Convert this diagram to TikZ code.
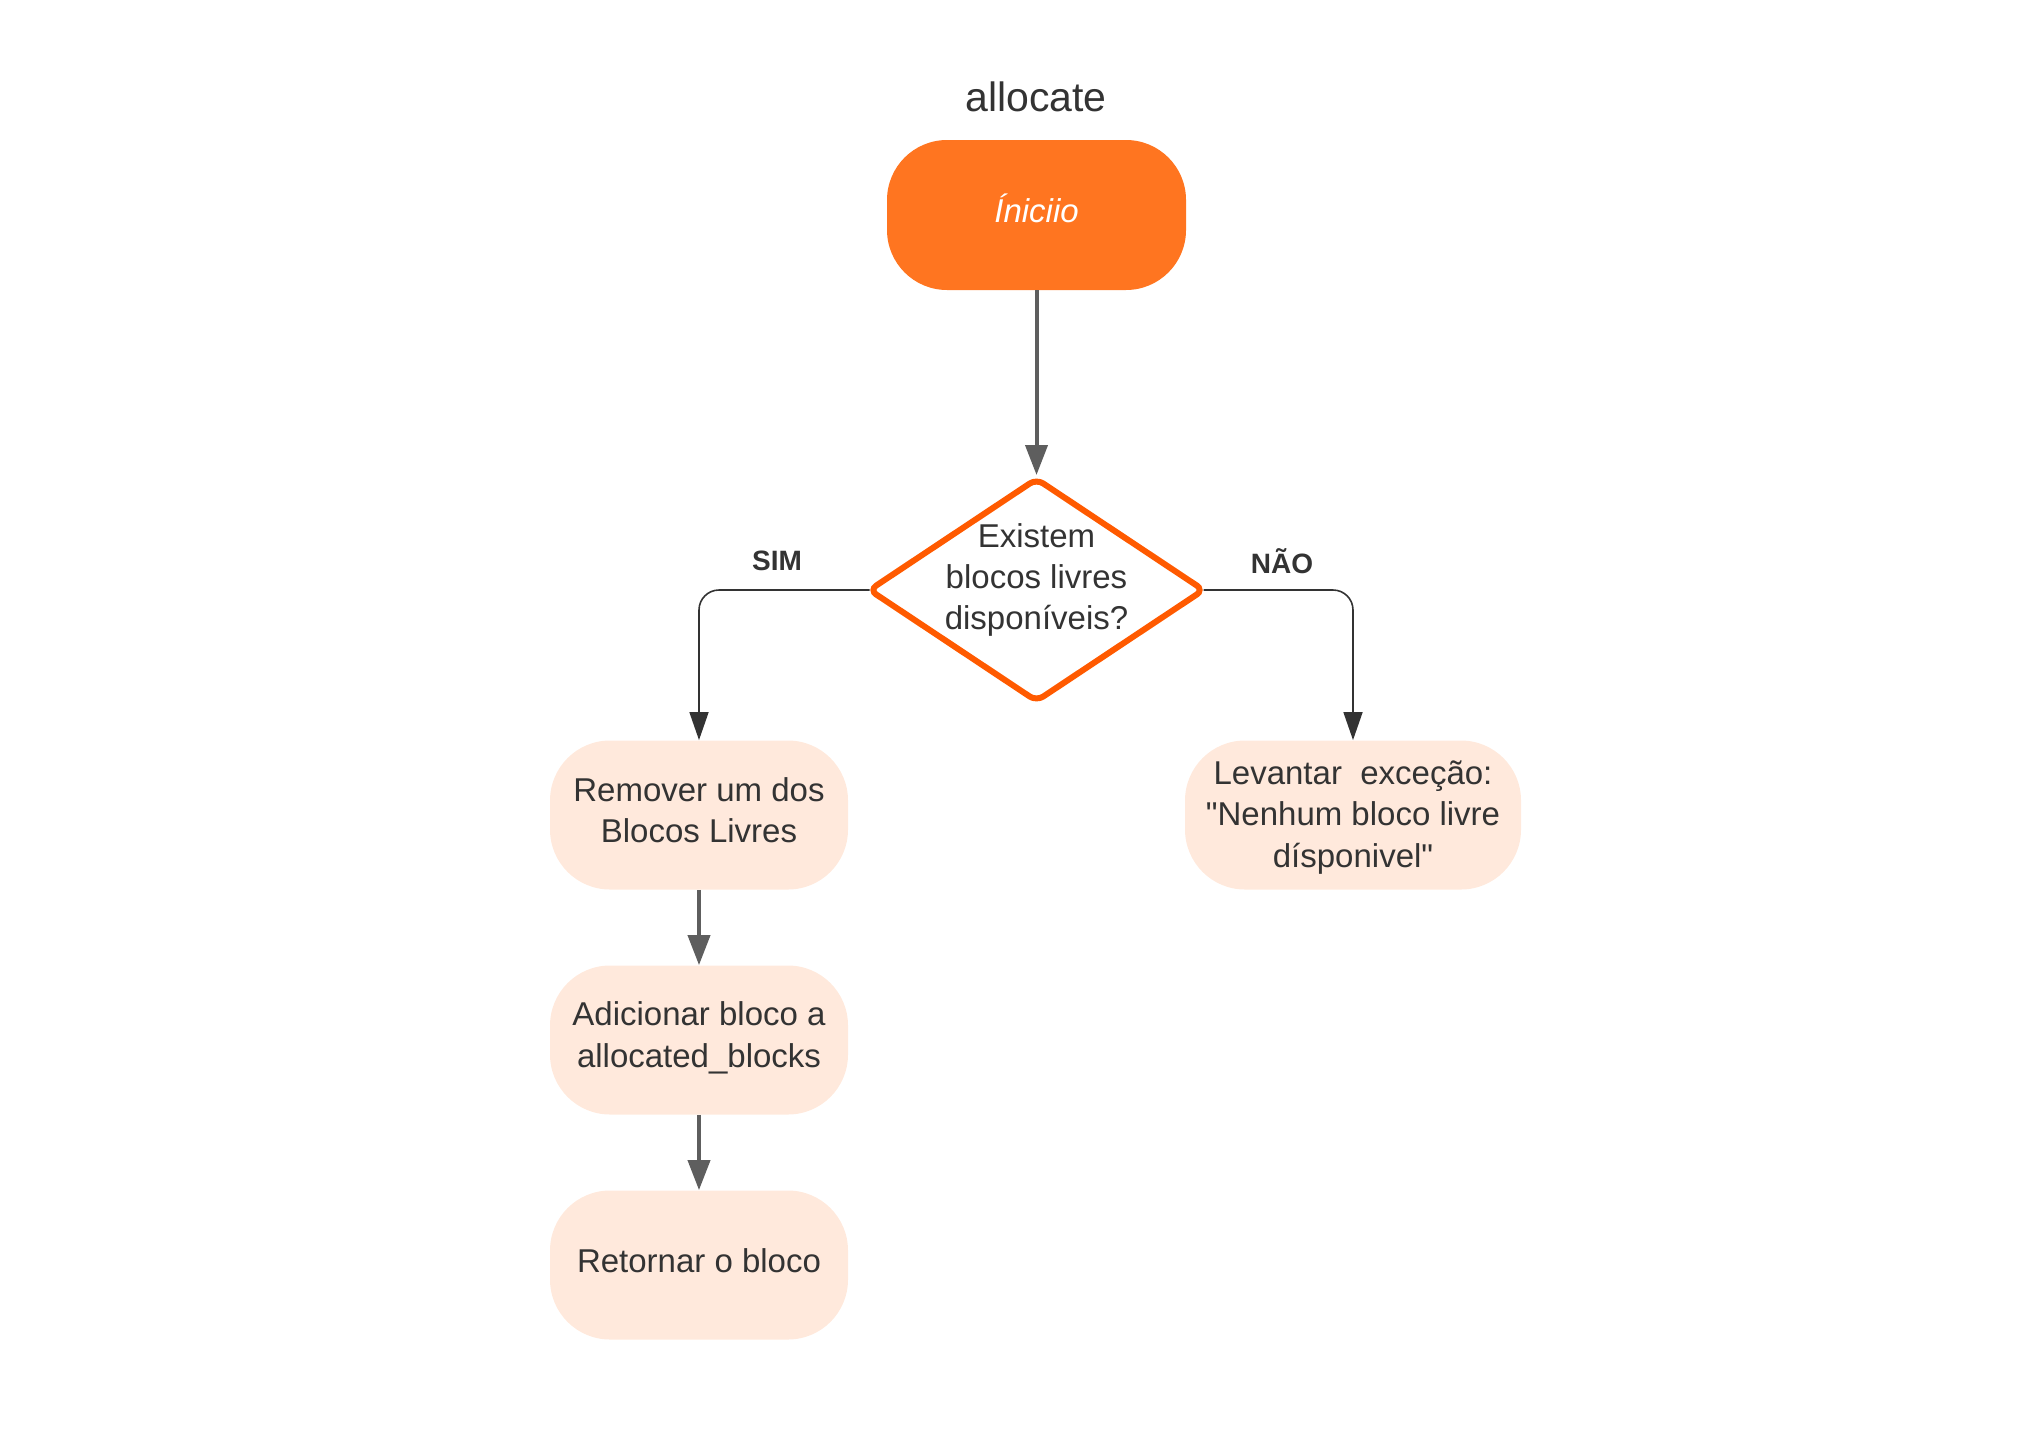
\documentclass[tikz,border=0pt]{standalone}
\usepackage{fontspec}
\setmainfont{Liberation Sans}[Ligatures=TeXOff]
\usetikzlibrary{arrows.meta,shapes.geometric}
\definecolor{startor}{HTML}{FF7520}
\definecolor{diaor}{HTML}{FF5A00}
\definecolor{peach}{HTML}{FFE9DC}
\definecolor{txt}{HTML}{333333}
\definecolor{garrow}{HTML}{5E5E5E}
\definecolor{darrow}{HTML}{333333}
\tikzset{
  boxtxt/.style={font=\fontsize{16.5}{20.7}\selectfont, text=txt, align=center, inner sep=0pt},
  stadium/.style={fill=peach, rounded corners=30pt, minimum height=74.5pt, inner sep=0pt},
  startnode/.style={fill=startor, rounded corners=30pt, minimum width=149.5pt, minimum height=75pt, inner sep=0pt},
  starttxt/.style={text=white, font=\fontsize{16.5}{20.7}\selectfont\itshape, inner sep=0pt},
  dia/.style={shape=diamond, draw=diaor, line width=3pt, fill=white, minimum width=167pt, minimum height=111pt, rounded corners=4pt, inner sep=0pt, outer sep=0pt},
  thick arrow/.style={draw=garrow, line width=2pt, -{Triangle[length=15pt,width=11pt]}},
  thin arrow/.style={draw=darrow, line width=0.8pt, -{Triangle[length=14pt,width=9.5pt]}, rounded corners=10pt},
  lbl/.style={font=\fontsize{14}{16}\selectfont\bfseries, text=txt}
}
\begin{document}
\begin{tikzpicture}[x=0.5pt,y=-0.5pt]
\useasboundingbox (0,0) rectangle (2033,1451);
\node[font=\fontsize{20.5}{24}\selectfont, text=txt] (title) at (1036,97) {allocate};
\node[startnode] (start) at (1036.5,215) {};
\node[starttxt] (startt) at (1036.5,208.5) {Íniciio};
\node[dia] (d) at (1036.5,590) {};
\node[boxtxt] (dt) at (1036.5,580) {Existem\\blocos livres\\disponíveis?};
\node[stadium, minimum width=149pt] (b1) at (699,815) {};
\node[boxtxt] (b1t) at (699,810) {Remover um dos\\Blocos Livres};
\node[stadium, minimum width=149pt] (b2) at (699,1040) {};
\node[boxtxt] (b2t) at (699,1038) {Adicionar bloco a\\allocated\_blocks};
\node[stadium, minimum width=149pt] (b3) at (699,1265) {};
\node[boxtxt] (b3t) at (699,1261) {Retornar o bloco};
\node[stadium, minimum width=168pt] (b4) at (1353,815) {};
\node[boxtxt] (b4t) at (1353,817.5) {Levantar\ \ exceção:\\"Nenhum bloco livre\\dísponivel"};
\node[lbl] (sim) at (777,561) {SIM};
\node[lbl] (nao) at (1282,561) {NÃO};
\draw[thick arrow, shorten >=2pt] (start.south) -- (d.north);
\draw[thin arrow] (d.west) -| (b1.north);
\draw[thin arrow] (d.east) -| (b4.north);
\draw[thick arrow] (b1.south) -- (b2.north);
\draw[thick arrow] (b2.south) -- (b3.north);
\end{tikzpicture}
\end{document}
